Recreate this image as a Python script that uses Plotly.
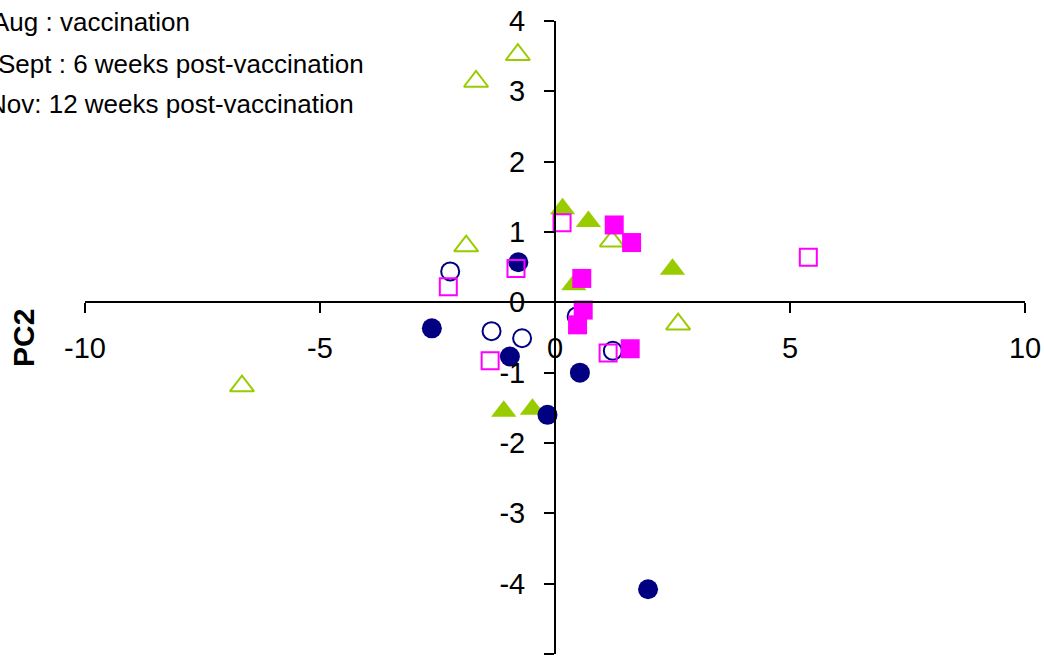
import plotly.graph_objects as go

# ---- data ----
# Sept (green triangles)
sept_filled_x = [0.16, 0.71, 2.50, 0.40, -1.09, -0.48]
sept_filled_y = [1.33, 1.15, 0.47, 0.25, -1.55, -1.52]
sept_open_x = [-1.89, 1.21, 2.62, -6.66, -0.79, -1.68]
sept_open_y = [0.80, 0.87, -0.31, -1.19, 3.52, 3.14]
# Aug (navy circles)
aug_filled_x = [-0.78, -2.62, -0.96, 0.53, -0.16, 1.98]
aug_filled_y = [0.57, -0.37, -0.77, -1.00, -1.60, -4.08]
aug_open_x = [-2.23, -1.35, -0.70, 0.46, 1.23]
aug_open_y = [0.44, -0.41, -0.51, -0.20, -0.69]
# Nov (magenta squares)
nov_filled_x = [1.26, 1.63, 0.57, 0.60, 0.48, 1.60]
nov_filled_y = [1.10, 0.85, 0.34, -0.11, -0.32, -0.66]
nov_open_x = [0.15, -0.83, -2.27, -1.38, 1.13, 5.39]
nov_open_y = [1.13, 0.48, 0.22, -0.83, -0.72, 0.64]

x_ticks = [-10, -5, 0, 5, 10]
y_ticks = [-5, -4, -3, -2, -1, 0, 1, 2, 3, 4]
x_range = [-10, 10]
y_range = [-5, 4]

notes = ["Aug : vaccination", "Sept : 6 weeks post-vaccination", "Nov: 12 weeks post-vaccination"]
y_title = "PC2"

NAVY = "#000080"
GREEN = "#99CC00"
MAGENTA = "#FF00FF"

W, H = 1044, 664
L, R, T, B = 85, 19, 21, 10
PW, PH = W - L - R, H - T - B


def px_to_paper(px, py):
    return (px - L) / PW, (H - B - py) / PH


fig = go.Figure()


def add(xs, ys, symbol, color, size, filled, name):
    fig.add_trace(go.Scatter(
        x=xs, y=ys, mode="markers", name=name, showlegend=False,
        marker=dict(
            symbol=symbol if filled else symbol + "-open",
            size=size,
            color=color,
            line=dict(color=color, width=0 if filled else 2),
        ),
    ))


add(sept_filled_x, sept_filled_y, "triangle-up", GREEN, 22, True, "Sept filled")
add(sept_open_x, sept_open_y, "triangle-up", GREEN, 21, False, "Sept open")
add(aug_filled_x, aug_filled_y, "circle", NAVY, 20, True, "Aug filled")
add(aug_open_x, aug_open_y, "circle", NAVY, 18, False, "Aug open")
add(nov_filled_x, nov_filled_y, "square", MAGENTA, 19, True, "Nov filled")
add(nov_open_x, nov_open_y, "square", MAGENTA, 17, False, "Nov open")

tick_font = dict(family="Liberation Sans, Arial, sans-serif", size=29, color="black")

fig.update_layout(
    width=W, height=H,
    margin=dict(l=L, r=R, t=T, b=B, pad=0),
    paper_bgcolor="white", plot_bgcolor="white",
    template="none",
    xaxis=dict(
        range=x_range, tickvals=x_ticks, ticktext=[str(v) for v in x_ticks],
        anchor="free", position=(0 - y_range[0]) / (y_range[1] - y_range[0]),
        showline=True, linecolor="black", linewidth=2,
        ticks="outside", ticklen=10, tickwidth=2, tickcolor="black",
        showgrid=False, zeroline=False, tickfont=tick_font,
        ticklabelstandoff=10, automargin=False,
    ),
    yaxis=dict(
        range=y_range, tickvals=y_ticks, ticktext=[str(v) for v in y_ticks],
        anchor="free", position=(0 - x_range[0]) / (x_range[1] - x_range[0]),
        showline=True, linecolor="black", linewidth=2,
        ticks="outside", ticklen=10, tickwidth=2, tickcolor="black",
        showgrid=False, zeroline=False, tickfont=tick_font,
        ticklabelstandoff=13, automargin=False,
    ),
)

note_font = dict(family="Liberation Sans, Arial, sans-serif", size=26, color="black")
note_pos = [(-10, 22), (-4, 64), (-14, 104)]
for txt, (px, py) in zip(notes, note_pos):
    xp, yp = px_to_paper(px, py)
    fig.add_annotation(text=txt, xref="paper", yref="paper", x=xp, y=yp,
                       xanchor="left", yanchor="middle", showarrow=False,
                       font=note_font)

xp, yp = px_to_paper(23, 338)
fig.add_annotation(text="<b>" + y_title + "</b>", xref="paper", yref="paper",
                   x=xp, y=yp, textangle=-90, xanchor="center", yanchor="middle",
                   showarrow=False,
                   font=dict(family="Liberation Sans, Arial, sans-serif", size=30, color="black"))

fig.write_html("out.html", config={"displayModeBar": False},
               post_script="document.body.style.margin='0';")
